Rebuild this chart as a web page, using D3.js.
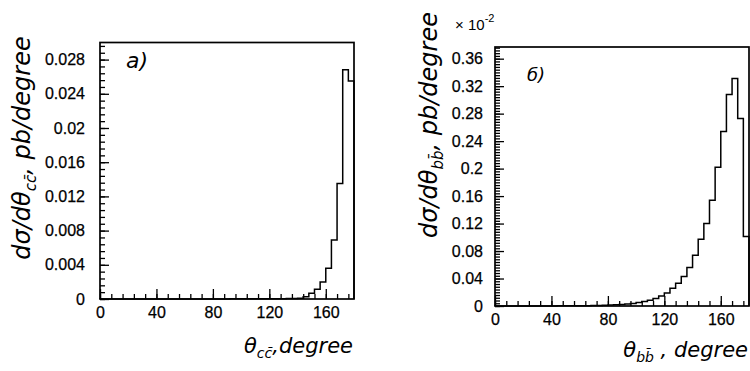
<!DOCTYPE html>
<html>
<head>
<meta charset="utf-8">
<script src="https://cdn.jsdelivr.net/npm/d3@7"></script>
<style>
body { margin: 0; background: #fff; }
svg { display: block; }
.ttl { font-family: "DejaVu Sans", sans-serif; font-style: italic; fill: #000; }
</style>
</head>
<body>
<svg id="chart" width="750" height="371"></svg>
<script>
// histogram bins, degrees (lower edges), last bin ends at 180
var binStarts = [0, 4, 8, 12, 16, 20, 24, 28, 32, 36, 40, 44, 48, 52, 56, 60, 64, 68, 72, 76,
	80, 84, 88, 92, 96, 100, 104, 108, 112, 116, 120, 124, 128, 132, 136, 140, 144, 148, 152, 156,
	160, 164, 168, 172, 176];
var binEnd = 180;

// a) d sigma / d theta_cc, pb/degree
var ccValues = [0.00001, 0.00001, 0.00001, 0.00001, 0.00001, 0.00001, 0.00001, 0.00001, 0.00001, 0.00001,
	0.00001, 0.00001, 0.00001, 0.00001, 0.00001, 0.00001, 0.00001, 0.00001, 0.00001, 0.00001,
	0.00001, 0.00001, 0.00001, 0.00002, 0.00002, 0.00002, 0.00002, 0.00002, 0.00003, 0.00003,
	0.00003, 0.00004, 0.00004, 0.00005, 0.00006, 0.0001, 0.00027, 0.00067, 0.00113, 0.002,
	0.0036, 0.0069, 0.0135, 0.0268, 0.0255];

// b) d sigma / d theta_bb, pb/degree (x 10^-2)
var bbValues = [0.0001, 0.0001, 0.0001, 0.0001, 0.0001, 0.0001, 0.0001, 0.0001, 0.0001, 0.0001,
	0.00015, 0.0002, 0.00025, 0.0003, 0.00035, 0.0004, 0.0005, 0.0006, 0.0008, 0.0011,
	0.0014, 0.0018, 0.0023, 0.003, 0.0038, 0.005, 0.0065, 0.0085, 0.011, 0.0145,
	0.019, 0.026, 0.033, 0.043, 0.056, 0.074, 0.097, 0.12, 0.154, 0.202,
	0.254, 0.308, 0.331, 0.273, 0.101];

var xTicks = [0, 40, 80, 120, 160];
var xTickLabels = ["0", "40", "80", "120", "160"];
var ccTicks = [0, 0.004, 0.008, 0.012, 0.016, 0.02, 0.024, 0.028];
var ccTickLabels = ["0", "0.004", "0.008", "0.012", "0.016", "0.02", "0.024", "0.028"];
var bbTicks = [0, 0.04, 0.08, 0.12, 0.16, 0.2, 0.24, 0.28, 0.32, 0.36];
var bbTickLabels = ["0", "0.04", "0.08", "0.12", "0.16", "0.2", "0.24", "0.28", "0.32", "0.36"];

var svg = d3.select("#chart");
var tickFont = "Liberation Sans, Arial, sans-serif";

function styleAxis(s, size) {
	s.select(".domain").remove();
	s.attr("font-family", tickFont).attr("font-size", size);
	s.selectAll("line").attr("stroke-width", 1.3);
	s.selectAll("text").attr("fill", "#000").attr("stroke", "#000").attr("stroke-width", 0.25);
}

function drawPanel(p) {
	var x = d3.scaleLinear().domain([0, 180]).range([p.left, p.right]);
	var y = d3.scaleLinear().domain([0, p.yMax]).range([p.bottom, p.top]);
	var g = svg.append("g");

	// minor ticks x
	g.append("g").attr("transform", "translate(0," + p.bottom + ")")
		.call(d3.axisBottom(x).tickValues(d3.range(0, 180, 8)).tickSize(-5).tickFormat(""))
		.call(styleAxis, 16);
	// major ticks x
	g.append("g").attr("transform", "translate(0," + p.bottom + ")")
		.call(d3.axisBottom(x).tickValues(xTicks).tickSize(-10).tickPadding(8)
			.tickFormat(function(d, i) { return xTickLabels[i]; }))
		.call(styleAxis, 16);

	// minor ticks y
	g.append("g").attr("transform", "translate(" + p.left + ",0)")
		.call(d3.axisLeft(y).tickValues(d3.range(0, p.yMax, p.yMinor)).tickSize(-5).tickFormat(""))
		.call(styleAxis, 16);
	// major ticks y
	g.append("g").attr("transform", "translate(" + p.left + ",0)")
		.call(d3.axisLeft(y).tickValues(p.yTicks).tickSize(-9).tickPadding(p.labelPad)
			.tickFormat(function(d, i) { return p.yLabels[i]; }))
		.call(styleAxis, 16);

	// histogram
	var pts = [[binStarts[0], 0]];
	binStarts.forEach(function(b, i) { pts.push([b, p.values[i]]); });
	pts.push([binEnd, p.values[p.values.length - 1]]);
	pts.push([binEnd, 0]);
	g.append("path")
		.attr("d", d3.line().x(function(d) { return x(d[0]); }).y(function(d) { return y(d[1]); })
			.curve(d3.curveStepAfter)(pts))
		.attr("fill", "none").attr("stroke", "#000").attr("stroke-width", 1.5);

	// frame
	g.append("rect")
		.attr("x", p.left).attr("y", p.top)
		.attr("width", p.right - p.left).attr("height", p.bottom - p.top)
		.attr("fill", "none").attr("stroke", "#000").attr("stroke-width", 1.7);
	return g;
}

drawPanel({left: 100, right: 354, top: 42.5, bottom: 299, yMax: 0.030, yMinor: 0.0008,
	values: ccValues, yTicks: ccTicks, yLabels: ccTickLabels, labelPad: 15});
drawPanel({left: 495, right: 749, top: 47, bottom: 306, yMax: 0.377, yMinor: 0.004,
	values: bbValues, yTicks: bbTicks, yLabels: bbTickLabels, labelPad: 12});

// y titles
function yTitle(cx, cy, sub) {
	var t = svg.append("text").attr("class", "ttl")
		.attr("transform", "translate(" + cx + "," + cy + ") rotate(-90)")
		.attr("text-anchor", "middle").style("font-size", "24px");
	t.append("tspan").text("dσ/dθ");
	t.append("tspan").attr("dy", 6).style("font-size", "15px").text(sub);
	t.append("tspan").attr("dy", -6).text(", pb/degree");
}
yTitle(30, 148, "cc\u0304");
yTitle(437, 125, "bb\u0304");

// x titles
function xTitle(rx, by, sub, rest) {
	var t = svg.append("text").attr("class", "ttl")
		.attr("x", rx).attr("y", by).attr("text-anchor", "end").style("font-size", "21px");
	t.append("tspan").text("θ");
	t.append("tspan").attr("dy", 5).style("font-size", "14px").text(sub);
	t.append("tspan").attr("dy", -5).text(rest);
}
xTitle(353, 353, "cc\u0304", ",degree");
xTitle(748, 357, "bb\u0304", " , degree");

// panel labels
svg.append("text").attr("class", "ttl").attr("x", 126).attr("y", 68)
	.style("font-size", "22px").text("a)");
svg.append("text").attr("class", "ttl").attr("x", 527).attr("y", 81)
	.style("font-size", "18px").text("б)");

// scale factor
var sf = svg.append("text").attr("x", 455).attr("y", 30)
	.attr("font-family", tickFont).attr("font-size", 15);
sf.append("tspan").text("× 10");
sf.append("tspan").attr("dy", -8).attr("font-size", 11).text("-2");
</script>
</body>
</html>
